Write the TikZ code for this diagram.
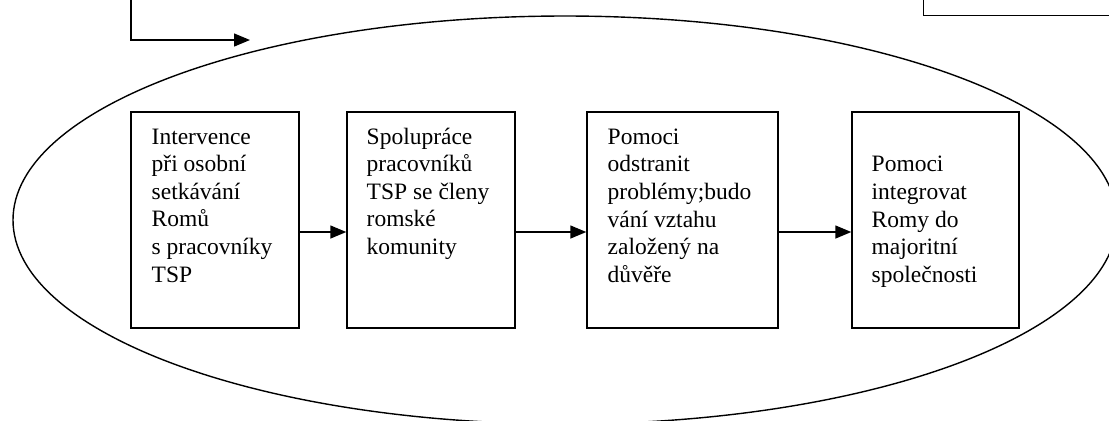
\documentclass[tikz,border=0pt]{standalone}
\usepackage{fontspec}
\setmainfont{Liberation Serif}
\usetikzlibrary{positioning}
\usetikzlibrary{arrows.meta}

\tikzset{
 stage/.style={draw,line width=0.7pt,minimum height=108pt,inner sep=0pt},
 say/.style={anchor=north west,align=left,inner sep=0pt,font=\fontsize{11.75}{13.8}\selectfont},
 flow/.style={line width=0.7pt,-{Triangle[length=8pt,width=6.5pt]}}
}

\begin{document}
\begin{tikzpicture}[x=0.5pt,y=-0.5pt]
 \useasboundingbox (0,0) rectangle (1109,420);
 \clip (0,0) rectangle (1109,420);
 \draw[line width=0.7pt] (565,220) ellipse [x radius=552,y radius=204];
 \node[stage,minimum width=84pt] (b1) at (215,220) {};
 \node[stage,minimum width=84pt] (b2) at (431,220) {};
 \node[stage,minimum width=95.5pt] (b3) at (682.5,220) {};
 \node[stage,minimum width=83.5pt] (b4) at (935.5,220) {};
 \node[say,below right=8.5pt and 10.5pt of b1.north west] (t1) {Intervence\\při osobní\\setkávání\\Romů\\s pracovníky\\TSP};
 \node[say,below right=8pt and 10pt of b2.north west] (t2) {Spolupráce\\pracovníků\\TSP se členy\\romské\\komunity};
 \node[say,below right=8.5pt and 10.5pt of b3.north west] (t3) {Pomoci\\odstranit\\problémy;budo\\vání vztahu\\založený na\\důvěře};
 \node[say,below right=22.3pt and 10pt of b4.north west] (t4) {Pomoci\\integrovat\\Romy do\\majoritní\\společnosti};
 \draw[flow] ([yshift=-6pt]b1.east) -- ([yshift=-6pt]b2.west);
 \draw[flow] ([yshift=-6pt]b2.east) -- ([yshift=-6pt]b3.west);
 \draw[flow] ([yshift=-6pt]b3.east) -- ([yshift=-6pt]b4.west);
 \coordinate (feed) at (131,-5);
 \coordinate (entry) at (250,40);
 \draw[flow] (feed) |- (entry);
 \node[draw,line width=0.7pt,anchor=south west,minimum width=150pt,minimum height=30pt] (prev) at (923,16) {};
\end{tikzpicture}
\end{document}
